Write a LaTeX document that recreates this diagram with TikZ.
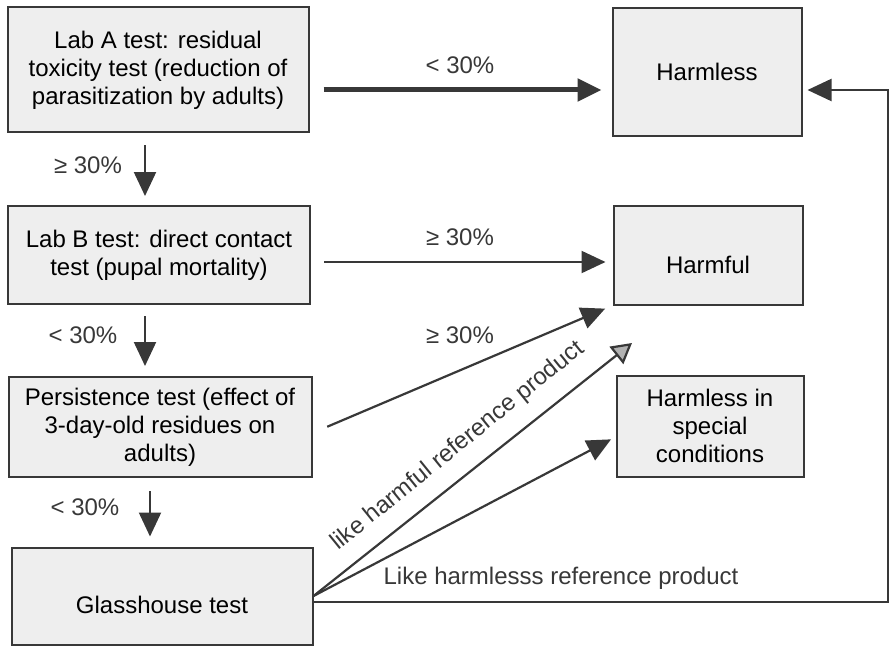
\documentclass[tikz,border=0pt]{standalone}
\usepackage{fontspec}
\setmainfont{Liberation Sans}
\usetikzlibrary{arrows.meta}
\definecolor{boxfill}{HTML}{EEEEEE}
\definecolor{ink}{HTML}{383838}

\begin{document}
\begin{tikzpicture}[x=0.5pt,y=-0.5pt,
        font=\fontsize{12}{14}\selectfont,
        box/.style={draw=ink,line width=1pt,fill=boxfill,align=center,inner sep=0pt},
        flow/.style={draw=ink,line width=1.1pt,-{Triangle[length=12pt,width=11pt]}},
        pct/.style={text=ink}]

            %\draw [help lines] (0,0) grid (894,647);
            \useasboundingbox (0,0) rectangle (894,647);

            \path   (158,70)  node (laba) [box,minimum width=150.5pt,minimum height=62.5pt] {Lab A test: residual\\toxicity test (reduction of\\parasitization by adults)}
                    (159,255) node (labb) [box,minimum width=151pt,minimum height=49pt] {Lab B test: direct contact\\test (pupal mortality)}
                    (160,427) node (pers) [box,minimum width=151.5pt,minimum height=50pt] {Persistence test (effect of\\3-day-old residues on\\adults)}
                    (162,596) node (glass) [box,minimum width=150.5pt,minimum height=48.5pt,text height=17pt,text depth=0pt] {Glasshouse test}
                    (707,72)  node (harmless) [box,minimum width=94.5pt,minimum height=64pt] {Harmless}
                    (708,255) node (harmful) [box,minimum width=94.5pt,minimum height=49.5pt,text height=18pt,text depth=0pt] {Harmful}
                    (710,426) node (special) [box,minimum width=93.5pt,minimum height=50.5pt] {Harmless in\\special\\conditions};

            \path   (460,65)  node (pa) [pct] {< 30\%}
                    (88,165)  node (pb) [pct] {≥ 30\%}
                    (460,237) node (pc) [pct] {≥ 30\%}
                    (83,335)  node (pd) [pct] {< 30\%}
                    (460,335) node (pe) [pct] {≥ 30\%}
                    (85,507)  node (pf) [pct] {< 30\%}
                    (458,446) node (likeharm) [pct,rotate=39] {like harmful reference product}
                    (561,578) node (likeless) [pct] {Like harmlesss reference product};

            \coordinate (hint) at (632,343);
            \coordinate (back) at (888,90);

            \draw[flow,line width=2.5pt,shorten <=7pt,shorten >=5pt] ([yshift=-10pt]laba.east) -- ([yshift=-10pt]laba.east -| harmless.west);
            \draw[flow,shorten <=6.5pt,shorten >=3.5pt] ([yshift=-3.5pt]labb.east) -- ([yshift=-3.5pt]labb.east -| harmful.west);
            \draw[flow,shorten <=6pt,shorten >=4.5pt] ([xshift=-6.5pt]laba.south) -- ([xshift=-6.5pt]laba.south |- labb.north);
            \draw[flow,shorten <=5.5pt,shorten >=5pt] ([xshift=-7pt]labb.south) -- ([xshift=-7pt]labb.south |- pers.north);
            \draw[flow,shorten <=6.5pt,shorten >=5pt] ([xshift=-5pt]pers.south) -- ([xshift=-5pt]pers.south |- glass.north);
            \draw[flow,shorten <=8pt,shorten >=4pt] ([yshift=-3pt]pers.east) -- (harmful.south west);
            \draw[flow,-{Triangle[length=10pt,width=11pt,fill=gray!60]}] (glass.east) -- (hint);
            \draw[flow,shorten >=2.5pt] (glass.east) -- ([yshift=-5.5pt]special.west);
            \draw[flow,shorten >=2.5pt] ([yshift=-3pt]glass.east) -| (back) -- ([yshift=-9pt]harmless.east);
        \end{tikzpicture}
\end{document}
